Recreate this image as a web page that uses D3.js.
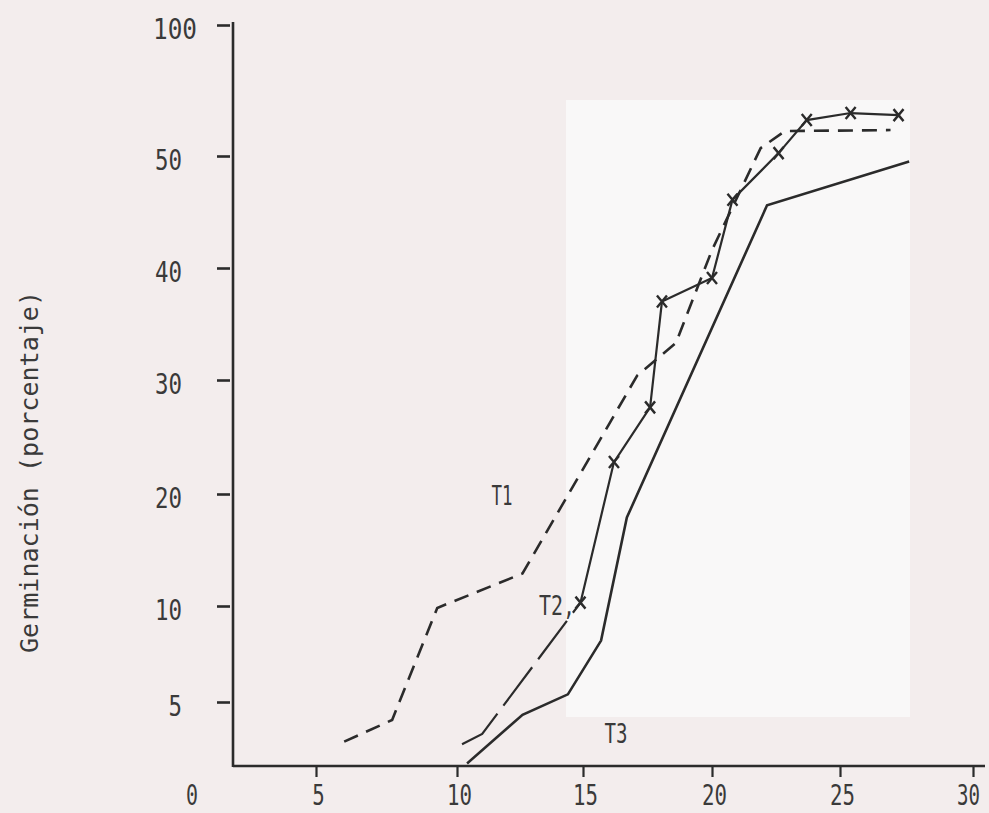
<!DOCTYPE html>
<html><head><meta charset="utf-8">
<script src="https://cdn.jsdelivr.net/npm/d3@7"></script>
<style>body{margin:0;background:#f3eded;} svg{display:block}</style>
</head><body><svg id="c" width="989" height="813"></svg>
<script>
// Tick values
const xTicks = [5, 10, 15, 20, 25, 30];
const yTicks = [5, 10, 20, 30, 40, 50, 100];
// Series: days, germination (%)
const t1Days = [6.0, 7.7, 9.3, 12.6, 17.1, 18.6, 20.0, 21.9, 22.85, 26.9];
const t1Vals = [1.9, 3.6, 9.9, 12.9, 30.4, 33.3, 41.6, 53.0, 59.5, 59.9];
const t2Days = [10.2, 11.0, 14.9, 16.2, 17.6, 18.06, 20.0, 20.8, 22.6, 23.7, 25.4, 27.2];
const t2Vals = [1.7, 2.5, 10.3, 22.8, 27.6, 37.0, 39.1, 46.1, 51.1, 63.7, 66.4, 65.6];
const t3Days = [10.4, 12.6, 14.4, 15.7, 16.7, 22.15, 27.6];
const t3Vals = [0.2, 4.0, 5.4, 8.2, 17.9, 45.6, 49.5];
const seriesNames = ["T1", "T2,", "T3"];

const svg = d3.select("#c");
const ink = "#2b2b2b", txt = "#3a3a3a";
const font = "'DejaVu Sans Mono', monospace";

const x = d3.scaleLinear().domain([0, 5, 10, 15, 20, 25, 30]).range([190, 316, 457, 583, 712, 840, 973]);
const y = d3.scaleLinear().domain([0, 5, 10, 20, 30, 40, 50, 100]).range([766, 702, 606, 494, 380, 268, 156, 25]);

// paper background and lighter scan patch
svg.append("rect").attr("width", 989).attr("height", 813).attr("fill", "#f3eded");
svg.append("rect").attr("x", 566).attr("y", 100).attr("width", 344).attr("height", 617).attr("fill", "#f9f8f8");

// X axis
const gx = svg.append("g").attr("transform", "translate(0,766)")
  .call(d3.axisBottom(x).tickValues(xTicks).tickSize(11).tickSizeOuter(0));
gx.select(".domain").remove();
gx.selectAll(".tick line").attr("stroke", ink).attr("stroke-width", 2.2);
gx.selectAll(".tick text")
  .attr("font-family", font).attr("font-size", 28).attr("fill", txt)
  .attr("y", 39).attr("dy", 0).attr("dx", d => d === 30 ? -5 : 2)
  .attr("textLength", d => d === 30 ? 23 : String(d).length * 12.5).attr("lengthAdjust", "spacingAndGlyphs");
svg.append("line").attr("x1", 233).attr("x2", 985).attr("y1", 766).attr("y2", 766)
  .attr("stroke", ink).attr("stroke-width", 2.6);
svg.append("text").attr("x", 192).attr("y", 805).attr("text-anchor", "middle")
  .attr("font-family", font).attr("font-size", 28).attr("fill", txt)
  .attr("textLength", 12).attr("lengthAdjust", "spacingAndGlyphs").text("0");

// Y axis
const gy = svg.append("g").attr("transform", "translate(233,0)")
  .call(d3.axisLeft(y).tickValues(yTicks).tickSize(0).tickSizeOuter(0));
gy.select(".domain").remove();
gy.selectAll(".tick line").attr("x1", -16).attr("x2", -3).attr("stroke", ink).attr("stroke-width", 2.6);
gy.selectAll(".tick text")
  .attr("font-family", font).attr("font-size", 28).attr("fill", txt)
  .attr("dy", 0).attr("y", 13)
  .attr("x", d => d === 100 ? -80 : -51)
  .attr("text-anchor", d => d === 100 ? "start" : "end")
  .attr("textLength", d => d === 100 ? 44 : String(d).length * 13.5).attr("lengthAdjust", "spacingAndGlyphs");
svg.append("line").attr("x1", 233).attr("x2", 233).attr("y1", 22).attr("y2", 767)
  .attr("stroke", ink).attr("stroke-width", 2.6);

// Y title
svg.append("text").attr("transform", "translate(38,472) rotate(-90)")
  .attr("text-anchor", "middle").attr("font-family", font).attr("font-size", 24).attr("fill", txt)
  .attr("textLength", 362).attr("lengthAdjust", "spacingAndGlyphs")
  .text("Germinación (porcentaje)");

// Lines
const line = d3.line().x(d => x(d[0])).y(d => y(d[1]));
const t1 = d3.zip(t1Days, t1Vals), t2 = d3.zip(t2Days, t2Vals), t3 = d3.zip(t3Days, t3Vals);
svg.append("path").datum(t1).attr("d", line).attr("fill", "none").attr("stroke", ink)
  .attr("stroke-width", 2.6).attr("stroke-dasharray", "15,9");
// T2: broken (long-dash) start, solid afterwards
svg.append("path").datum(t2.slice(0, 3)).attr("d", line).attr("fill", "none").attr("stroke", ink)
  .attr("stroke-width", 2.2).attr("stroke-dasharray", "48,10");
svg.append("path").datum(t2.slice(2)).attr("d", line).attr("fill", "none").attr("stroke", ink)
  .attr("stroke-width", 2.2);
svg.append("path").datum(t3).attr("d", line).attr("fill", "none").attr("stroke", ink)
  .attr("stroke-width", 2.6);

// X markers on T2
svg.selectAll(".mk").data(t2.slice(2)).enter().append("path").attr("class", "mk")
  .attr("transform", d => `translate(${x(d[0])},${y(d[1])})`)
  .attr("d", "M-5,-6L5,6M-5,6L5,-6").attr("stroke", ink).attr("stroke-width", 2.4).attr("fill", "none");

// series labels
const labelPos = [[502, 505, 21], [557, 615, 36], [616, 743, 23]];
svg.selectAll(".lab").data(seriesNames).enter().append("text").attr("class", "lab")
  .attr("x", (d, i) => labelPos[i][0]).attr("y", (d, i) => labelPos[i][1])
  .attr("text-anchor", "middle").attr("font-family", font).attr("font-size", 27).attr("fill", txt)
  .attr("textLength", (d, i) => labelPos[i][2]).attr("lengthAdjust", "spacingAndGlyphs")
  .text(d => d);
</script>
</body></html>
